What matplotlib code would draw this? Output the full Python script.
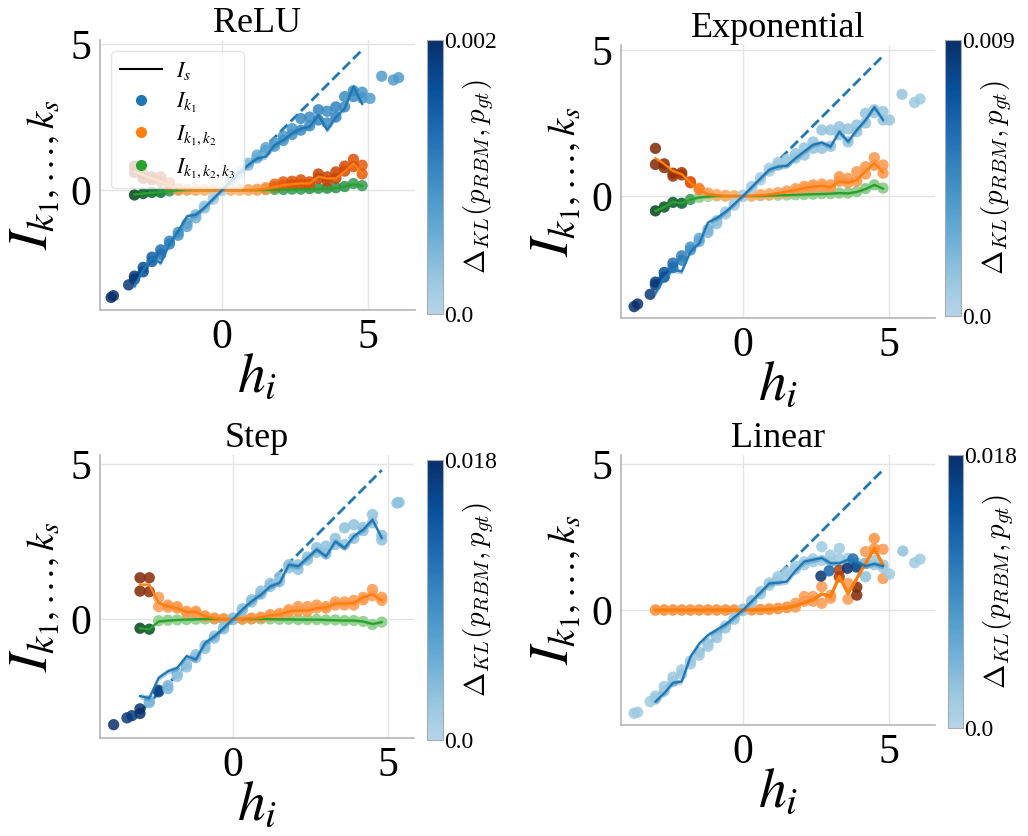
import numpy as np
import matplotlib
matplotlib.use("Agg")
import matplotlib.pyplot as plt
from matplotlib.colors import ListedColormap, Normalize
from matplotlib.cm import ScalarMappable
from matplotlib.lines import Line2D

plt.rcParams["font.family"] = ["Liberation Serif", "DejaVu Serif"]
plt.rcParams["mathtext.fontset"] = "stix"

# bins of the hidden field h_i
H = [-3.0, -2.7, -2.4, -2.1, -1.8, -1.5, -1.2, -0.9, -0.6, -0.3, 0.0, 0.3, 0.6, 0.9,
     1.2, 1.5, 1.8, 2.1, 2.4, 2.7, 3.0, 3.3, 3.6, 3.9, 4.2, 4.5, 4.8]

TITLES = ["ReLU", "Exponential", "Step", "Linear"]
VMAX = [0.002, 0.009, 0.018, 0.018]
VMAX_LABELS = ["0.002", "0.009", "0.018", "0.018"]

# ---- ReLU ----
RELU_S1 = [-3.3, -2.75, -2.3, -2.5, -1.85, -1.4, -0.9, -0.85, -0.6, -0.3, 0.0, 0.3, 0.6, 0.86,
           1.08, 1.14, 1.54, 1.71, 1.94, 2.1, 2.17, 2.57, 2.05, 2.5, 2.8, 3.55, 2.95]
RELU_P1A = [-2.95, -2.65, -2.3, -2.05, -1.75, -1.45, -1.15, -0.85, -0.55, -0.28, 0.02, 0.32, 0.62, 0.92,
            1.2, 1.45, 1.62, 1.85, 2.1, 2.45, 2.5, 2.75, 2.7, 2.85, 3.2, 3.4, 3.35]
RELU_P1B = [-3.05, -2.8, -2.45, -2.2, -1.85, -1.55, -1.25, -0.95, -0.62, -0.32, -0.02, 0.28, 0.55, 0.85,
            1.1, 1.35, 1.5, 1.7, 1.9, 2.05, 2.2, 2.4, 2.3, 2.5, 2.85, 3.2, 3.15]
RELU_C1 = [0.0019, 0.0017, 0.0015, 0.0013, 0.0011, 0.0009, 0.0007, 0.0005, 0.0003, 0.0001, 0.0, 0.0001,
           0.0002, 0.0004, 0.0006, 0.0007, 0.0008, 0.0009, 0.0009, 0.001, 0.001, 0.0011, 0.001, 0.0011,
           0.001, 0.001, 0.0009]
RELU_XE = [-3.8, -3.72, -3.2, 5.07, 5.47, 5.87, 6.05]
RELU_YE = [-3.68, -3.62, -3.25, 3.14, 3.9, 3.77, 3.85]
RELU_CE = [0.002, 0.002, 0.0019, 0.0008, 0.0008, 0.0008, 0.0008]
RELU_S2 = [0.63, 0.51, 0.4, 0.29, 0.17, 0.06, 0.02, 0.0, 0.0, 0.0, 0.0, 0.0, 0.0, 0.0,
           0.01, 0.04, 0.11, 0.17, 0.2, 0.23, 0.23, 0.46, 0.4, 0.4, 0.63, 0.91, 0.57]
RELU_P2A = [0.82, 0.55, 0.45, 0.45, 0.25, 0.05, 0.02, 0.0, 0.0, 0.0, 0.0, 0.0, 0.0, 0.01,
            0.03, 0.08, 0.2, 0.28, 0.3, 0.35, 0.28, 0.55, 0.45, 0.62, 0.82, 1.05, 0.85]
RELU_P2B = [0.6, 0.4, 0.35, 0.3, 0.12, 0.02, 0.0, 0.0, 0.0, 0.0, 0.0, 0.0, 0.0, 0.0,
            0.0, 0.03, 0.1, 0.15, 0.18, 0.2, 0.2, 0.4, 0.3, 0.4, 0.65, 0.8, 0.55]
RELU_C2 = [0.0019, 0.0018, 0.0017, 0.0015, 0.0012, 0.0005, 0.0003, 0.0002, 0.0001, 0.0001, 0.0001, 0.0001,
           0.0001, 0.0002, 0.0003, 0.0005, 0.001, 0.0011, 0.0012, 0.0012, 0.0012, 0.0014, 0.0014, 0.0014,
           0.0013, 0.0012, 0.0011]
RELU_S3 = [-0.15, -0.12, -0.09, -0.07, -0.03, -0.01, 0.0, 0.0, 0.0, 0.0, 0.0, 0.0, 0.0, 0.0,
           0.0, 0.0, 0.01, 0.01, 0.02, 0.02, 0.03, 0.04, 0.05, 0.07, 0.12, 0.2, 0.14]
RELU_P3 = [-0.17, -0.12, -0.08, -0.08, -0.03, -0.01, 0.0, 0.0, 0.0, 0.0, 0.0, 0.0, 0.0, 0.0,
           0.0, 0.01, 0.02, 0.02, 0.03, 0.03, 0.05, 0.06, 0.06, 0.08, 0.12, 0.22, 0.15]
RELU_C3 = [0.002, 0.0018, 0.0017, 0.0016, 0.0012, 0.0004, 0.0003, 0.0002, 0.0001, 0.0001, 0.0001, 0.0001,
           0.0001, 0.0002, 0.0003, 0.0005, 0.001, 0.0011, 0.0011, 0.0011, 0.0012, 0.0012, 0.0012, 0.0012,
           0.0012, 0.0011, 0.0011]

# ---- Exponential ----
EXP_S1 = [-3.33, -2.82, -2.53, -2.59, -1.9, -1.62, -0.91, -0.76, -0.55, -0.28, 0.0, 0.3, 0.6, 0.9,
          1.0, 1.03, 1.29, 1.52, 1.75, 1.83, 1.69, 2.2, 1.86, 2.26, 2.6, 3.04, 2.6]
EXP_P1A = [-2.95, -2.62, -2.3, -2.05, -1.75, -1.45, -1.15, -0.85, -0.55, -0.27, 0.03, 0.33, 0.63, 0.95,
           1.15, 1.25, 1.45, 1.65, 1.85, 2.26, 2.26, 2.37, 2.3, 2.43, 2.83, 2.95, 2.89]
EXP_P1B = [-3.05, -2.78, -2.45, -2.2, -1.85, -1.55, -1.25, -0.95, -0.62, -0.32, -0.02, 0.27, 0.55, 0.85,
           1.05, 1.15, 1.3, 1.4, 1.63, 1.63, 1.7, 2.1, 1.85, 2.2, 2.5, 2.85, 2.6]
EXP_C1 = [0.0085, 0.0075, 0.006, 0.005, 0.004, 0.003, 0.002, 0.0014, 0.0009, 0.0005, 0.0003, 0.0004,
          0.0005, 0.0007, 0.0009, 0.001, 0.0012, 0.0013, 0.0014, 0.0014, 0.0014, 0.0014, 0.0014, 0.0014,
          0.0014, 0.0012, 0.0012]
EXP_XE = [-3.73, -3.61, -3.18, 5.02, 5.45, 5.88, 6.07]
EXP_YE = [-3.79, -3.7, -3.37, 2.6, 3.48, 3.2, 3.32]
EXP_CE = [0.009, 0.009, 0.0085, 0.0012, 0.0012, 0.001, 0.001]
EXP_S2 = [1.29, 1.1, 0.85, 0.75, 0.45, 0.2, 0.07, 0.03, 0.0, 0.0, 0.0, 0.0, 0.03, 0.05,
          0.1, 0.15, 0.2, 0.28, 0.32, 0.35, 0.3, 0.5, 0.45, 0.55, 0.85, 1.12, 0.8]
EXP_P2A = [1.63, 1.1, 0.78, 0.8, 0.49, 0.26, 0.1, 0.05, 0.02, 0.0, 0.0, 0.02, 0.05, 0.08,
           0.12, 0.17, 0.25, 0.33, 0.38, 0.41, 0.38, 0.66, 0.6, 0.83, 1.0, 1.31, 1.06]
EXP_P2B = [1.08, 0.97, 0.68, 0.72, 0.45, 0.22, 0.08, 0.02, 0.0, 0.0, 0.0, 0.0, 0.02, 0.04,
           0.08, 0.12, 0.18, 0.25, 0.28, 0.3, 0.28, 0.5, 0.45, 0.5, 0.75, 1.05, 0.78]
EXP_C2 = [0.009, 0.0085, 0.008, 0.0075, 0.005, 0.003, 0.0015, 0.001, 0.001, 0.0008, 0.0008, 0.0008,
          0.001, 0.001, 0.0012, 0.0015, 0.0018, 0.002, 0.002, 0.002, 0.002, 0.0022, 0.0022, 0.0022,
          0.0022, 0.0022, 0.0022]
EXP_S3 = [-0.51, -0.38, -0.2, -0.25, -0.12, -0.05, -0.02, 0.0, 0.0, 0.0, 0.0, 0.0, 0.0, 0.01,
          0.02, 0.03, 0.04, 0.05, 0.06, 0.07, 0.08, 0.1, 0.09, 0.14, 0.24, 0.38, 0.25]
EXP_P3 = [-0.51, -0.38, -0.22, -0.25, -0.12, -0.05, -0.02, 0.0, 0.0, 0.0, 0.0, 0.0, 0.01, 0.02,
          0.02, 0.03, 0.04, 0.05, 0.06, 0.08, 0.08, 0.1, 0.1, 0.15, 0.25, 0.38, 0.27]
EXP_C3 = [0.009, 0.0085, 0.008, 0.0078, 0.005, 0.002, 0.0012, 0.001, 0.001, 0.0008, 0.0008, 0.0008,
          0.001, 0.001, 0.0012, 0.0015, 0.0018, 0.002, 0.002, 0.002, 0.002, 0.0022, 0.0022, 0.0022,
          0.0024, 0.0024, 0.0022]

# ---- Step ----
STEP_S1 = [-2.49, -2.55, -1.9, -1.69, -1.58, -1.2, -1.31, -0.77, -0.56, -0.29, 0.0, 0.3, 0.57, 0.78,
           1.05, 1.16, 1.75, 1.7, 1.97, 2.24, 2.02, 2.5, 2.29, 2.67, 2.88, 3.2, 2.61]
STEP_P1A = [-2.9, -2.65, -2.3, -2.15, -1.75, -1.45, -1.15, -0.85, -0.55, -0.27, 0.03, 0.33, 0.62, 0.9,
            1.15, 1.35, 1.75, 1.75, 2.0, 2.3, 2.35, 2.6, 2.94, 3.04, 2.95, 3.37, 2.7]
STEP_P1B = [-3.05, -2.7, -2.35, -2.25, -1.85, -1.55, -1.25, -0.95, -0.62, -0.32, -0.02, 0.27, 0.55, 0.8,
            1.05, 1.2, 1.65, 1.6, 1.9, 2.15, 2.1, 2.4, 2.4, 2.6, 2.85, 3.1, 2.55]
STEP_C1 = [0.018, 0.004, 0.016, 0.004, 0.003, 0.003, 0.003, 0.003, 0.003, 0.003, 0.003, 0.003,
           0.003, 0.003, 0.003, 0.003, 0.003, 0.003, 0.003, 0.003, 0.003, 0.003, 0.003, 0.003,
           0.003, 0.003, 0.003]
STEP_XE = [-3.85, -3.42, -3.26, 5.29, 5.36]
STEP_YE = [-3.41, -3.19, -3.12, 3.74, 3.76]
STEP_CE = [0.018, 0.017, 0.017, 0.003, 0.003]
STEP_S2 = [1.11, 1.11, 0.52, 0.41, 0.35, 0.23, 0.23, 0.09, 0.03, 0.0, 0.0, 0.0, 0.02, 0.05,
           0.12, 0.15, 0.25, 0.28, 0.27, 0.35, 0.37, 0.5, 0.5, 0.52, 0.7, 0.8, 0.6]
STEP_P2A = [1.33, 1.33, 0.7, 0.45, 0.4, 0.25, 0.25, 0.1, 0.03, 0.0, 0.0, 0.0, 0.03, 0.06,
            0.14, 0.18, 0.3, 0.4, 0.4, 0.45, 0.4, 0.55, 0.55, 0.6, 0.7, 0.95, 0.7]
STEP_P2B = [0.9, 0.88, 0.4, 0.38, 0.35, 0.2, 0.2, 0.08, 0.02, 0.0, 0.0, 0.0, 0.01, 0.04,
            0.1, 0.12, 0.22, 0.25, 0.25, 0.35, 0.35, 0.45, 0.45, 0.45, 0.62, 0.75, 0.6]
STEP_C2 = [0.018, 0.017, 0.004, 0.004, 0.004, 0.004, 0.004, 0.004, 0.004, 0.004, 0.004, 0.004,
           0.004, 0.004, 0.004, 0.004, 0.004, 0.004, 0.004, 0.004, 0.004, 0.004, 0.004, 0.004,
           0.004, 0.004, 0.004]
STEP_S3 = [-0.3, -0.33, -0.08, -0.05, -0.03, -0.02, -0.01, 0.0, 0.0, 0.0, 0.0, 0.0, 0.0, 0.0,
           0.0, -0.01, -0.01, -0.02, -0.02, -0.02, -0.03, -0.04, -0.05, -0.05, -0.08, -0.16, -0.1]
STEP_P3 = [-0.3, -0.33, -0.06, -0.04, -0.03, -0.02, -0.01, 0.0, 0.0, 0.0, 0.0, 0.0, 0.0, 0.0,
           0.0, -0.01, -0.01, -0.02, -0.02, -0.02, -0.03, -0.03, -0.05, -0.05, -0.08, -0.18, -0.1]
STEP_C3 = [0.018, 0.017, 0.004, 0.004, 0.004, 0.004, 0.004, 0.004, 0.004, 0.004, 0.004, 0.004,
           0.004, 0.004, 0.004, 0.004, 0.004, 0.004, 0.004, 0.004, 0.004, 0.004, 0.004, 0.004,
           0.004, 0.004, 0.004]

# ---- Linear ----
LIN_S1 = [-3.14, -2.85, -2.5, -2.45, -1.6, -1.15, -0.86, -0.68, -0.5, -0.25, 0.0, 0.3, 0.6, 0.91,
          0.93, 0.97, 1.35, 1.66, 1.72, 1.78, 1.6, 1.6, 1.72, 1.65, 1.5, 1.58, 1.5]
LIN_P1A = [-2.95, -2.62, -2.3, -2.05, -1.75, -1.45, -1.15, -0.85, -0.55, -0.27, 0.03, 0.33, 0.63, 0.93,
           1.15, 1.3, 1.5, 1.65, 1.75, 2.17, 1.88, 2.11, 1.77, 1.6, 1.6, 1.7, 1.54]
LIN_P1B = [-3.05, -2.78, -2.45, -2.2, -1.85, -1.55, -1.25, -0.95, -0.62, -0.32, -0.02, 0.27, 0.55, 0.85,
           1.05, 1.2, 1.4, 1.55, 1.65, 1.7, 1.65, 1.75, 1.6, 1.45, 1.14, 1.55, 1.45]
LIN_C1 = [0.002, 0.002, 0.002, 0.002, 0.002, 0.002, 0.002, 0.002, 0.002, 0.002, 0.002, 0.002,
          0.002, 0.002, 0.002, 0.002, 0.002, 0.002, 0.002, 0.002, 0.002, 0.002, 0.002, 0.003,
          0.003, 0.002, 0.002]
LIN_XE = [-3.73, -3.61, -3.18, 2.67, 2.95, 3.58, 3.77, 3.89, 5.02, 5.48, 5.88, 6.07]
LIN_YE = [-3.54, -3.5, -3.14, 1.16, 1.34, 1.43, 1.75, 1.48, 1.23, 2.02, 1.62, 1.74]
LIN_CE = [0.002, 0.002, 0.002, 0.018, 0.013, 0.018, 0.012, 0.016, 0.002, 0.003, 0.002, 0.002]
LIN_S2 = [0.0, 0.0, 0.0, 0.0, 0.0, 0.0, 0.0, 0.0, 0.0, 0.0, 0.0, 0.0, 0.01, 0.02,
          0.05, 0.08, 0.15, 0.25, 0.35, 0.55, 0.46, 1.14, 0.57, 1.08, 1.6, 2.11, 1.54]
LIN_P2A = [0.0, 0.0, 0.0, 0.0, 0.0, 0.0, 0.0, 0.0, 0.0, 0.0, 0.0, 0.01, 0.02, 0.04,
           0.06, 0.1, 0.23, 0.46, 0.46, 0.8, 0.5, 1.37, 0.91, 0.78, 2.0, 2.45, 2.08]
LIN_P2B = [0.0, 0.0, 0.0, 0.0, 0.0, 0.0, 0.0, 0.0, 0.0, 0.0, 0.0, 0.0, 0.01, 0.02,
           0.04, 0.08, 0.1, 0.3, 0.3, 0.23, 0.4, 1.14, 0.37, 0.51, 1.6, 2.1, 1.08]
LIN_C2 = [0.004, 0.004, 0.004, 0.004, 0.004, 0.004, 0.004, 0.004, 0.004, 0.004, 0.004, 0.004,
          0.004, 0.004, 0.004, 0.004, 0.004, 0.004, 0.004, 0.004, 0.004, 0.014, 0.004, 0.018,
          0.004, 0.005, 0.004]

PANELS = [
    (RELU_S1, RELU_P1A, RELU_P1B, RELU_C1, RELU_XE, RELU_YE, RELU_CE,
     RELU_S2, RELU_P2A, RELU_P2B, RELU_C2, RELU_S3, RELU_P3, RELU_C3),
    (EXP_S1, EXP_P1A, EXP_P1B, EXP_C1, EXP_XE, EXP_YE, EXP_CE,
     EXP_S2, EXP_P2A, EXP_P2B, EXP_C2, EXP_S3, EXP_P3, EXP_C3),
    (STEP_S1, STEP_P1A, STEP_P1B, STEP_C1, STEP_XE, STEP_YE, STEP_CE,
     STEP_S2, STEP_P2A, STEP_P2B, STEP_C2, STEP_S3, STEP_P3, STEP_C3),
    (LIN_S1, LIN_P1A, LIN_P1B, LIN_C1, LIN_XE, LIN_YE, LIN_CE,
     LIN_S2, LIN_P2A, LIN_P2B, LIN_C2, None, None, None),
]

# layout in pixels: axes (x0, x1, top, bottom), colorbar (x0, x1, top, bottom), limits
W, HPX = 1028, 836
AX_PX = [(100, 415, 40, 310), (621, 935, 45, 318), (100, 414, 455, 738), (621, 935, 455, 725)]
CB_PX = [(427, 443, 40, 314), (945, 961, 40, 316), (427, 443, 460, 740), (948, 963, 455, 728)]
XLIMS = [(-4.18, 6.61), (-4.18, 6.58), (-4.29, 5.84), (-4.18, 6.58)]
YLIMS = [(-4.11, 5.14), (-4.18, 5.17), (-3.84, 5.29), (-3.94, 5.31)]


def trunc(name):
    return ListedColormap(plt.get_cmap(name)(np.linspace(0.3, 1.0, 256)))


CMAPS = [trunc("Blues"), trunc("Oranges"), trunc("Greens")]
LINE_COLORS = ["#1f77b4", "#ff7f0e", "#2ca02c"]


def rect(px):
    x0, x1, t, b = px
    return [x0 / W, 1 - b / HPX, (x1 - x0) / W, (b - t) / HPX]


fig = plt.figure(figsize=(10.28, 8.36), dpi=100)

for i, data in enumerate(PANELS):
    (s1, p1a, p1b, c1, xe, ye, ce, s2, p2a, p2b, c2, s3, p3, c3) = data
    vmax = VMAX[i]
    ax = fig.add_axes(rect(AX_PX[i]))
    cax = fig.add_axes(rect(CB_PX[i]))
    h = np.array(H)

    ax.plot([H[0], H[-1]], [H[0], H[-1]], ls="--", color=LINE_COLORS[0], lw=2, zorder=2)

    kw = dict(s=66, vmin=0, vmax=vmax, alpha=0.85, linewidths=0, zorder=3)
    # third order
    if s3 is not None:
        ax.scatter(H, p3, c=c3, cmap=CMAPS[2], **kw)
        ax.fill_between(h, np.array(s3) - 0.04, np.array(s3) + 0.04, color=LINE_COLORS[2], alpha=0.3, lw=0, zorder=4)
        ax.plot(H, s3, color=LINE_COLORS[2], lw=1.6, zorder=4)
    # second order
    ax.scatter(H, p2a, c=c2, cmap=CMAPS[1], **kw)
    ax.scatter(H, p2b, c=c2, cmap=CMAPS[1], **kw)
    lw2 = 2.4 if i == 3 else 1.6
    ax.fill_between(h, np.array(s2) - 0.05, np.array(s2) + 0.05, color=LINE_COLORS[1], alpha=0.3, lw=0, zorder=4)
    ax.plot(H, s2, color=LINE_COLORS[1], lw=lw2, zorder=4)
    # first order
    ax.scatter(H, p1a, c=c1, cmap=CMAPS[0], **kw)
    ax.scatter(H, p1b, c=c1, cmap=CMAPS[0], **kw)
    ax.scatter(xe, ye, c=ce, cmap=CMAPS[0], **kw)
    ax.fill_between(h, np.array(s1) - 0.09, np.array(s1) + 0.09, color=LINE_COLORS[0], alpha=0.35, lw=0, zorder=4)
    ax.plot(H, s1, color=LINE_COLORS[0], lw=1.6, zorder=4)

    ax.set_xlim(*XLIMS[i])
    ax.set_ylim(*YLIMS[i])
    ax.set_xticks([0, 5])
    ax.set_yticks([0, 5])
    ax.tick_params(length=0, labelsize=30, pad=6)
    ax.grid(color="#e4e4e4", lw=1)
    ax.set_axisbelow(True)
    for side in ["top", "right"]:
        ax.spines[side].set_visible(False)
    for side in ["left", "bottom"]:
        ax.spines[side].set_color("#b5b5b5")
        ax.spines[side].set_linewidth(1.2)
    ax.set_title(TITLES[i], fontsize=26, pad=4)
    ax.set_xlabel(r"$h_i$", fontsize=40, labelpad=-4)
    ax.set_ylabel(r"$I_{k_1,\ldots,k_s}$", fontsize=40, labelpad=6)

    sm = ScalarMappable(norm=Normalize(0, vmax), cmap=CMAPS[0])
    cb = fig.colorbar(sm, cax=cax, ticks=[0, vmax])
    cb.ax.set_yticklabels(["0.0", VMAX_LABELS[i]])
    cb.ax.tick_params(length=0, labelsize=17, pad=1)
    cb.outline.set_edgecolor("#aaaaaa")
    cb.ax.yaxis.set_label_position("right")
    cb.set_label(r"$\Delta_{KL}(p_{RBM}, p_{gt})$", fontsize=21, math_fontfamily="cm", labelpad=-26)

    if i == 0:
        handles = [
            Line2D([], [], color="black", lw=1.5, label=r"$I_s$"),
            Line2D([], [], ls="", marker="o", ms=7, color=LINE_COLORS[0], label=r"$I_{k_1}$"),
            Line2D([], [], ls="", marker="o", ms=7, color=LINE_COLORS[1], label=r"$I_{k_1,k_2}$"),
            Line2D([], [], ls="", marker="o", ms=7, color=LINE_COLORS[2], label=r"$I_{k_1,k_2,k_3}$"),
        ]
        leg = ax.legend(handles=handles, loc="upper left", fontsize=16, frameon=True,
                        borderaxespad=0.5, handlelength=1.9, handletextpad=0.6, labelspacing=0.4)
        leg.get_frame().set_edgecolor("#dddddd")
        leg.set_zorder(10)

fig.savefig("out.png", dpi=100, facecolor="white")
